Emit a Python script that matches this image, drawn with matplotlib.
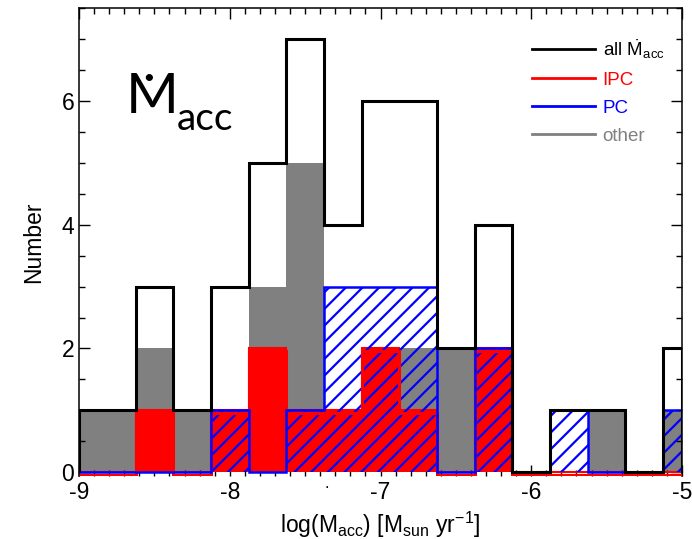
import numpy as np
import matplotlib.pyplot as plt
import matplotlib.transforms as mtransforms
from matplotlib.ticker import MultipleLocator

plt.rcParams['font.family'] = ['Liberation Sans', 'DejaVu Sans']
plt.rcParams['mathtext.fontset'] = 'custom'
plt.rcParams['mathtext.rm'] = 'Liberation Sans'
plt.rcParams['mathtext.it'] = 'Liberation Sans:italic'
plt.rcParams['axes.unicode_minus'] = False
plt.rcParams['hatch.linewidth'] = 1.6

# histogram counts per bin of log(Macc), bin width 0.25
bin_centers = [-9.0, -8.75, -8.5, -8.25, -8.0, -7.75, -7.5, -7.25, -7.0,
               -6.75, -6.5, -6.25, -6.0, -5.75, -5.5, -5.25, -5.0]
n_all   = [1, 1, 3, 1, 3, 5, 7, 4, 6, 6, 2, 4, 0, 1, 1, 0, 2]
n_ipc   = [0, 0, 1, 0, 1, 2, 1, 1, 2, 1, 0, 2, 0, 0, 0, 0, 0]
n_pc    = [0, 0, 0, 0, 1, 0, 1, 3, 3, 3, 0, 2, 0, 1, 0, 0, 1]
n_other = [1, 1, 2, 1, 1, 3, 5, 0, 1, 2, 2, 0, 0, 0, 1, 0, 1]

xmin, xmax = -9, -5
width = 0.25
centers = np.array(bin_centers)
edges = np.append(centers - width / 2, centers[-1] + width / 2)
edges = np.clip(edges, xmin, xmax)

grey = '#808080'

fig = plt.figure(figsize=(6.92, 5.39), dpi=100)
ax = fig.add_axes([79/692, 1 - 476/539, 603/692, 468/539])

ax.stairs(n_other, edges, baseline=0, fill=True, color=grey, zorder=1)
ax.stairs(n_ipc, edges, baseline=0, fill=True, facecolor='red',
          edgecolor='red', linewidth=1.5, zorder=2)
# hatched PC histogram, transparent so the others show through
ax.stairs(n_pc, edges, baseline=0, fill=True, facecolor='none',
          edgecolor='blue', linewidth=0, hatch='//', zorder=3)
# red outline sits a couple of pixels lower so it peeks out under the others
shift = mtransforms.offset_copy(ax.transData, fig=fig, x=0, y=-2.5, units='dots')
ax.stairs(n_ipc, edges, baseline=0, color='red', linewidth=2.2,
          transform=shift, zorder=3.5)
ax.stairs(n_pc, edges, baseline=0, color='blue', linewidth=1.8, zorder=4)
ax.stairs(n_all, edges, baseline=0, color='black', linewidth=2.2, zorder=5)

# legend handles
ax.plot([], [], color='black', lw=2, label=r'all $\dot{\mathrm{M}}_{\mathrm{acc}}$')
ax.plot([], [], color='red', lw=2, label='IPC')
ax.plot([], [], color='blue', lw=2, label='PC')
ax.plot([], [], color=grey, lw=2, label='other')
leg = ax.legend(loc='upper left', bbox_to_anchor=(0.736, 0.957), frameon=False,
                fontsize=13.5, handlelength=3.36, handletextpad=0.4,
                labelspacing=0.58, borderpad=0, labelcolor='linecolor')

ax.set_xlim(xmin, xmax)
ax.set_ylim(-0.06, 7.5)
ax.xaxis.set_major_locator(MultipleLocator(1))
ax.xaxis.set_minor_locator(MultipleLocator(0.1))
ax.yaxis.set_major_locator(MultipleLocator(2))
ax.yaxis.set_minor_locator(MultipleLocator(0.5))
ax.tick_params(which='both', direction='in', top=True, right=True,
               labelsize=16.5, width=1)
ax.tick_params(which='major', length=8)
ax.tick_params(which='minor', length=4)
ax.spines['bottom'].set_visible(False)
for s in ['left', 'right', 'top']:
    ax.spines[s].set_linewidth(1.1)

ax.set_ylabel('Number', fontsize=16.5, labelpad=12)
ax.set_xlabel(r'log(M$_{\mathrm{acc}}$) [M$_{\mathrm{sun}}$ yr$^{-1}$]',
              fontsize=16.5, labelpad=4)

# big label in the upper left corner
fig.text(126/692, 1 - 113/539, 'M', fontsize=41, family='Lato',
         ha='left', va='baseline')
fig.text(149/692, 1 - 115/539, '\u02d9', fontsize=41, family='Lato',
         ha='center', va='baseline')
fig.text(177/692, 1 - 130/539, 'acc', fontsize=28, family='Lato',
         ha='left', va='baseline')
fig.text(327/692, 1 - 488/539, '.', fontsize=12, ha='center', va='baseline')

fig.savefig('out.png', dpi=100)
